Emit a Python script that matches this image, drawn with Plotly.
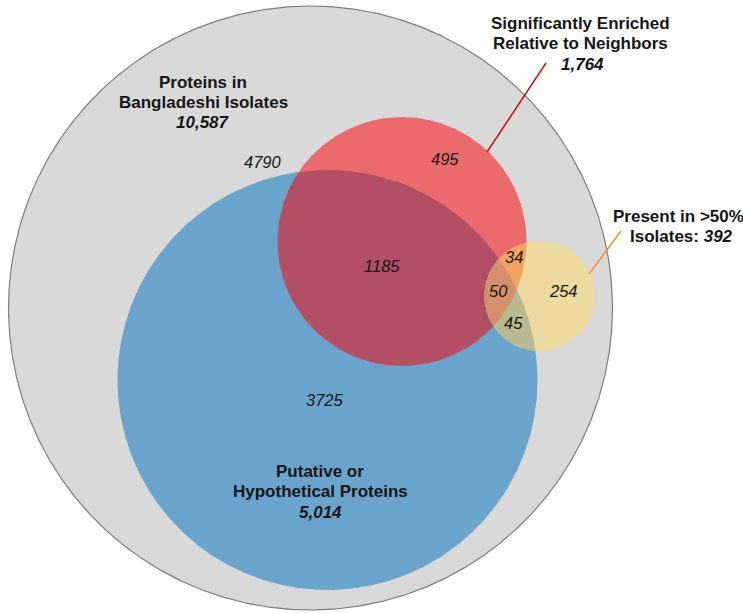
import numpy as np
import plotly.graph_objects as go

# ---- data ----
set_names = ["Proteins in Bangladeshi Isolates", "Putative or Hypothetical Proteins",
             "Significantly Enriched Relative to Neighbors", "Present in >50% Isolates"]
set_totals = ["10,587", "5,014", "1,764", "392"]
region_names = ["gray only", "blue only", "red∩blue", "red only", "red∩yellow",
                "red∩blue∩yellow", "yellow only", "blue∩yellow"]
region_counts = [4790, 3725, 1185, 495, 34, 50, 254, 45]

# ---- geometry (pixel layout) ----
GRAY = (310.5, 308.0, 302.0)
BLUE = (327.5, 380.0, 210.0)
RED = (402.0, 241.5, 124.5)
YEL = (539.5, 296.0, 55.0)

def circle_pts(c, n=1440):
    t = np.linspace(0, 2 * np.pi, n)
    return c[0] + c[2] * np.cos(t), c[1] + c[2] * np.sin(t)

def inside(c, x, y, tol=1e-6):
    return (x - c[0]) ** 2 + (y - c[1]) ** 2 <= c[2] ** 2 * (1 + tol)

def intersection(circles):
    xs, ys = [], []
    for i, c in enumerate(circles):
        x, y = circle_pts(c, 4000)
        m = np.ones_like(x, dtype=bool)
        for j, d in enumerate(circles):
            if i != j:
                m &= inside(d, x, y)
        xs.append(x[m]); ys.append(y[m])
    x = np.concatenate(xs); y = np.concatenate(ys)
    cx, cy = x.mean(), y.mean()
    order = np.argsort(np.arctan2(y - cy, x - cx))
    x, y = x[order], y[order]
    return np.append(x, x[0]), np.append(y, y[0])

fig = go.Figure()

def add_poly(x, y, fill, line_color=None, line_width=0):
    fig.add_trace(go.Scatter(
        x=x, y=y, mode="lines", fill="toself", fillcolor=fill,
        line=dict(color=line_color or fill, width=line_width),
        hoverinfo="skip", showlegend=False))

x, y = circle_pts(GRAY)
add_poly(x, y, "#d9d9d9", "#7d7d7d", 1.2)
x, y = circle_pts(BLUE); add_poly(x, y, "#6aa4cc")
x, y = circle_pts(RED); add_poly(x, y, "#ec6a6c")
x, y = intersection([RED, BLUE]); add_poly(x, y, "#b34f64")
x, y = circle_pts(YEL); add_poly(x, y, "#eedb9f")
x, y = intersection([YEL, RED]); add_poly(x, y, "#f2a363")
x, y = intersection([YEL, BLUE]); add_poly(x, y, "#b7ba90")
x, y = intersection([YEL, RED, BLUE]); add_poly(x, y, "#d4906a")

# leader lines
fig.add_trace(go.Scatter(x=[546, 487], y=[63, 152], mode="lines",
                         line=dict(color="#c0141e", width=1.5),
                         hoverinfo="skip", showlegend=False))
fig.add_trace(go.Scatter(x=[621, 589], y=[231, 274], mode="lines",
                         line=dict(color="#f0922f", width=1.5),
                         hoverinfo="skip", showlegend=False))

FONT = "Liberation Sans, Arial, Helvetica, sans-serif"
TXT = "#161616"

def label(x, y, text, size=17):
    fig.add_annotation(x=x, y=y, text=text, showarrow=False,
                       xanchor="center", yanchor="middle",
                       font=dict(family=FONT, size=size, color=TXT))

# region counts
region_pos = [(263, 162), (325, 400), (382, 266), (445, 159),
              (514, 257), (498, 291), (563, 291), (513, 323)]
for (px, py), v in zip(region_pos, region_counts):
    label(px, py, f"<i>{v}</i>", 16.5)

# set titles
label(203, 82, "<b>Proteins in</b>")
label(203, 102, "<b>Bangladeshi Isolates</b>")
label(203, 122, f"<b><i>{set_totals[0]}</i></b>")

label(320, 471, "<b>Putative or</b>")
label(320, 491, "<b>Hypothetical Proteins</b>")
label(320, 512, f"<b><i>{set_totals[1]}</i></b>")

label(580, 23, "<b>Significantly Enriched</b>")
label(580, 43, "<b>Relative to Neighbors</b>")
label(582, 64, f"<b><i>{set_totals[2]}</i></b>")

label(678, 216, "<b>Present in >50%</b>")
label(681, 236, f"<b>Isolates: <i>{set_totals[3]}</i></b>")

fig.update_layout(
    width=743, height=613,
    margin=dict(l=0, r=0, t=0, b=0),
    paper_bgcolor="white", plot_bgcolor="white",
    xaxis=dict(range=[0, 743], visible=False, fixedrange=True),
    yaxis=dict(range=[613, 0], visible=False, fixedrange=True),
    showlegend=False,
)

fig.write_html(
    "out.html",
    config={"displayModeBar": False},
    post_script="document.body.style.margin='0';document.body.style.overflow='hidden';",
)
